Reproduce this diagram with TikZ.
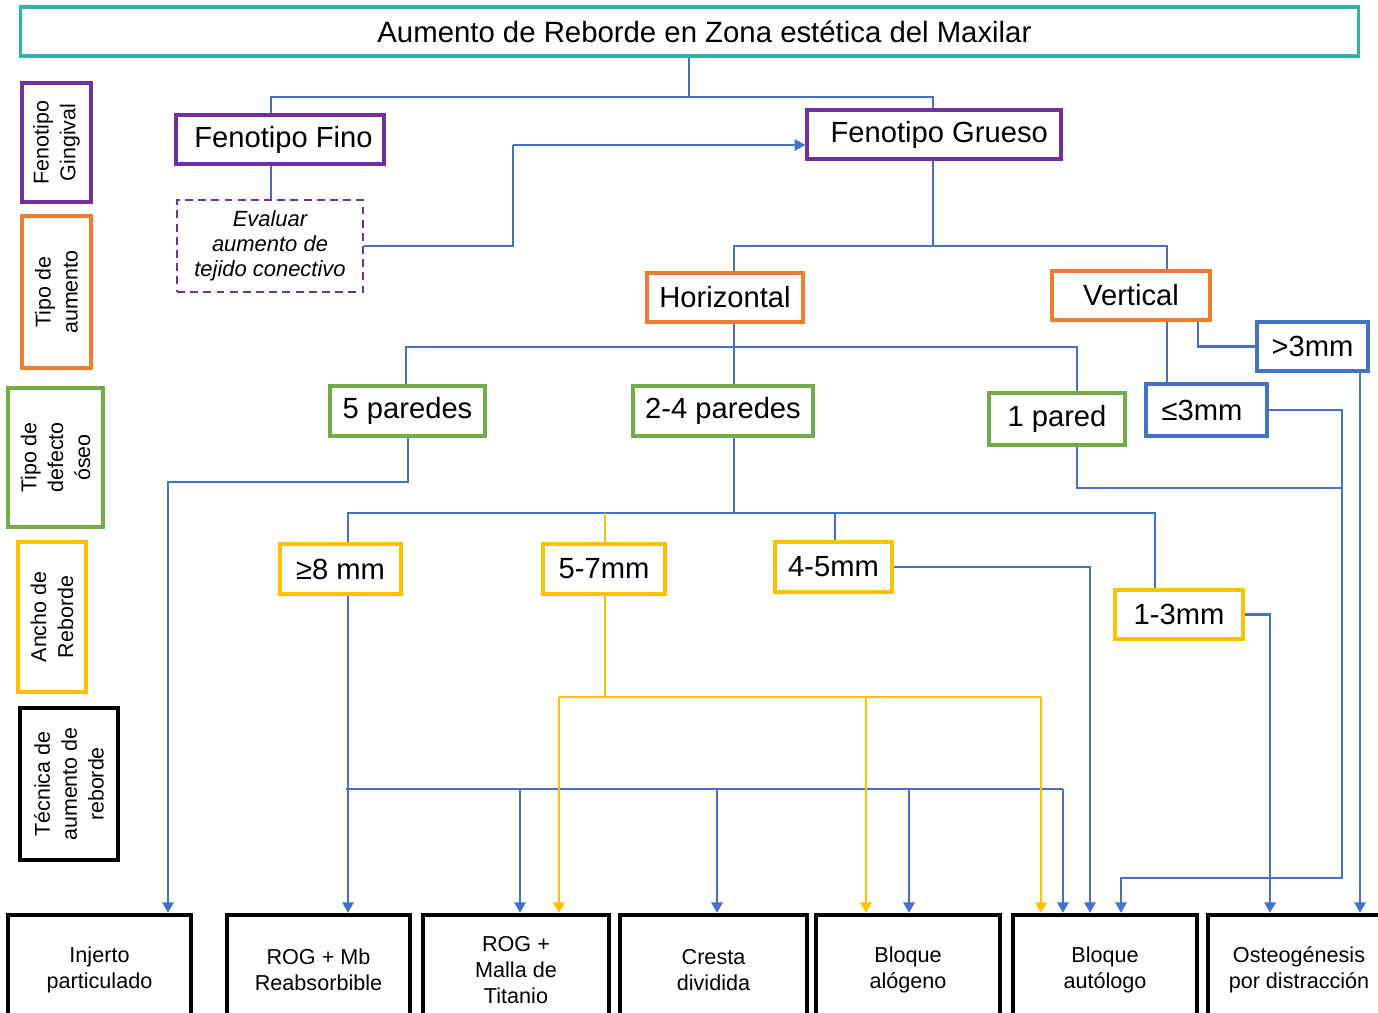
\documentclass[tikz,border=0pt]{standalone}
\usepackage{fontspec}
\setmainfont{Liberation Sans}
\usetikzlibrary{arrows.meta}
\definecolor{cteal}{RGB}{46,180,168}
\definecolor{cpurple}{RGB}{112,48,160}
\definecolor{corange}{RGB}{237,125,49}
\definecolor{cgreen}{RGB}{112,173,71}
\definecolor{cyellow}{RGB}{255,192,0}
\definecolor{cblue}{RGB}{68,114,196}
\begin{document}
\begin{tikzpicture}[x=0.02cm,y=-0.02cm,
  box/.style={draw=#1, line width=2pt, fill=white, inner sep=0pt, align=center, font=\fontsize{16.6}{19}\selectfont},
  lab/.style={draw=#1, line width=2pt, rotate=90, inner sep=0pt, align=center, font=\fontsize{12.2}{15.3}\selectfont},
  tech/.style={draw=black, line width=2.5pt, inner sep=0pt, align=center, minimum height=2.2cm, font=\fontsize{12.3}{14.8}\selectfont},
  conn/.style={draw=cblue, line width=1.5pt},
  conn2/.style={draw=cblue, line width=1.2pt},
  yconn/.style={draw=cyellow, line width=1.3pt},
  arr/.style={-{Triangle[length=6pt,width=6.5pt]}},
]
\clip (0,0) rectangle (1378,1013);
\fill[white] (0,0) rectangle (1378,1013);

% title
\node[draw=cteal, line width=1.8pt, minimum width=26.78cm, minimum height=0.98cm, inner sep=0pt, font=\fontsize{16.7}{19}\selectfont] (title) at (689.5,31.5) {\hspace*{17pt}Aumento de Reborde en Zona estética del Maxilar};

% left labels
\node[lab=cpurple, minimum width=2.38cm, minimum height=1.38cm] (lg1) at (56.5,142.5) {Fenotipo\\Gingival};
\node[lab=corange, minimum width=3.04cm, minimum height=1.38cm] (lg2) at (56.5,292) {Tipo de\\aumento};
\node[lab=cgreen, minimum width=2.78cm, minimum height=1.9cm] (lg3) at (55.5,457.5) {Tipo de\\defecto\\óseo};
\node[lab=cyellow, minimum width=3.0cm, minimum height=1.36cm] (lg4) at (52,617) {Ancho de\\Reborde};
\node[lab=black, line width=2.5pt, minimum width=3.04cm, minimum height=1.96cm] (lg5) at (69,784) {Técnica de\\aumento de\\reborde};

% main nodes
\node[box=cpurple, minimum width=4.16cm, minimum height=0.98cm] (fino) at (280,139.5) {\hspace*{4pt}Fenotipo Fino};
\node[draw=cpurple, dashed, dash pattern=on 4.5pt off 3pt, line width=1.3pt, inner sep=0pt, align=center, minimum width=3.72cm, minimum height=1.84cm, font=\fontsize{12.5}{14.2}\selectfont\itshape] (eval) at (270,246) {Evaluar\\aumento de\\tejido conectivo};
\node[box=cpurple, minimum width=5.08cm, minimum height=0.98cm] (grueso) at (934,134.5) {\hspace*{6pt}Fenotipo Grueso};
\node[box=corange, minimum width=3.12cm, minimum height=0.98cm] (horiz) at (725,297.5) {Horizontal};
\node[box=corange, minimum width=3.16cm, minimum height=0.98cm] (vert) at (1131,295.5) {Vertical};
\node[box=cblue, minimum width=2.22cm, minimum height=0.98cm] (gt3) at (1312.5,346.5) {>3mm};
\node[box=cgreen, minimum width=3.1cm, minimum height=1.0cm] (p5) at (407.5,411) {5 paredes};
\node[box=cgreen, minimum width=3.6cm, minimum height=1.0cm] (p24) at (723,411) {2-4 paredes};
\node[box=cgreen, minimum width=2.72cm, minimum height=1.04cm] (p1) at (1057,419) {1 pared};
\node[box=cblue, minimum width=2.42cm, minimum height=1.04cm] (le3) at (1206.5,410) {≤3mm\hspace*{5pt}};
\node[box=cyellow, minimum width=2.42cm, minimum height=1.0cm] (ge8) at (340.5,569) {≥8 mm};
\node[box=cyellow, minimum width=2.44cm, minimum height=1.0cm] (m57) at (604,569) {5-7mm};
\node[box=cyellow, minimum width=2.34cm, minimum height=1.0cm] (m45) at (833.5,567) {4-5mm};
\node[box=cyellow, minimum width=2.56cm, minimum height=0.98cm] (m13) at (1179,614.5) {1-3mm};

% bottom technique boxes
\node[tech, minimum width=3.66cm] (b1) at (99.5,970) {Injerto\\particulado};
\node[tech, minimum width=3.66cm] (b2) at (318.5,970) {ROG + Mb\\Reabsorbible};
\node[tech, minimum width=3.72cm] (b3) at (516,970) {ROG +\\Malla de\\Titanio};
\node[tech, minimum width=3.74cm] (b4) at (713.5,970) {Cresta\\dividida};
\node[tech, minimum width=3.68cm] (b5) at (908,970) {Bloque\\alógeno};
\node[tech, minimum width=3.68cm] (b6) at (1105,970) {Bloque\\autólogo};
\node[tech, minimum width=3.64cm] (b7) at (1299,970) {Osteogénesis\\por distracción};

% junction coordinates
\coordinate (jA) at (689,97);
\coordinate (jAl) at (271,97);
\coordinate (jAr) at (933,97);
\coordinate (jE) at (513,246);
\coordinate (jE2) at (513,145);
\coordinate (jG) at (933,246);
\coordinate (jGl) at (734,246);
\coordinate (jGr) at (1167,246);
\coordinate (jH) at (734,347);
\coordinate (jHl) at (406,347);
\coordinate (jHr) at (1077,347);
\coordinate (jV) at (1198,347);
\coordinate (jP) at (408,482);
\coordinate (jP2) at (168,482);
\coordinate (j24) at (734,513);
\coordinate (j24l) at (348,513);
\coordinate (j24r) at (1155,513);
\coordinate (j45) at (835,513);
\coordinate (j57) at (605,513);
\coordinate (jY) at (605,697);
\coordinate (jYl) at (559,697);
\coordinate (jYm) at (866,697);
\coordinate (jYr) at (1041,697);
\coordinate (jB) at (346,789);
\coordinate (jB1) at (520,789);
\coordinate (jB2) at (717,789);
\coordinate (jB3) at (909,789);
\coordinate (jBr) at (1063,789);
\coordinate (jK) at (1090,568);
\coordinate (jL) at (1270,616);
\coordinate (jR) at (1342,878);
\coordinate (jR1) at (1342,488);
\coordinate (jR2) at (1121,878);
\coordinate (jX) at (1360,371);

% connectors
\draw[conn] (title.south -| jA) -- (jA);
\draw[conn] (fino.north -| jAl) |- (jAr) -- (grueso.north -| jAr);
\draw[conn] (fino.south -| jAl) -- (eval.north -| jAl);
\draw[conn] (eval.east) -- (jE) -- (jE2);
\draw[conn2,line width=0.9pt,arr] (jE2) -- (grueso.west |- jE2);
\draw[conn] (grueso.south -| jG) -- (jG);
\draw[conn] (horiz.north -| jGl) |- (jGr) -- (vert.north -| jGr);
\draw[conn] (horiz.south -| jH) -- (p24.north -| jH);
\draw[conn] (p5.north -| jHl) |- (jHr) -- (p1.north -| jHr);
\draw[conn] (vert.south -| jGr) -- (le3.north -| jGr);
\draw[conn] (vert.south -| jV) |- (gt3.west);
\draw[conn2,arr] (p5.south -| jP) |- (jP2) -- (b1.north -| jP2);
\draw[conn] (p24.south -| j24) -- (j24);
\draw[conn] (ge8.north -| j24l) |- (j24r) -- (m13.north -| j24r);
\draw[conn] (j45) -- (m45.north -| j45);
\draw[yconn] (j57) -- (m57.north -| j57);
\draw[conn2,arr] (ge8.south -| j24l) -- (b2.north -| j24l);
\draw[conn] (jB) -- (jBr);
\draw[conn2,arr] (jB1) -- (b3.north -| jB1);
\draw[conn2,arr] (jB2) -- (b4.north -| jB2);
\draw[conn2,arr] (jB3) -- (b5.north -| jB3);
\draw[conn2,arr] (jBr) -- (b6.north -| jBr);
\draw[yconn] (m57.south -| jY) -- (jY);
\draw[yconn] (jYl) -- (jYr);
\draw[yconn,arr] (jYl) -- (b3.north -| jYl);
\draw[yconn,arr] (jYm) -- (b5.north -| jYm);
\draw[yconn,arr] (jYr) -- (b6.north -| jYr);
\draw[conn2,arr] (m45.east) -| (b6.north -| jK);
\draw[conn2,arr] (m13.east) -| (b7.north -| jL);
\draw[conn2,arr] (le3.east) -| (jR) -| (b6.north -| jR2);
\draw[conn2] (p1.south -| jHr) |- (jR1);
\draw[conn2,arr] (gt3.south -| jX) -- (b7.north -| jX);
\end{tikzpicture}
\end{document}
